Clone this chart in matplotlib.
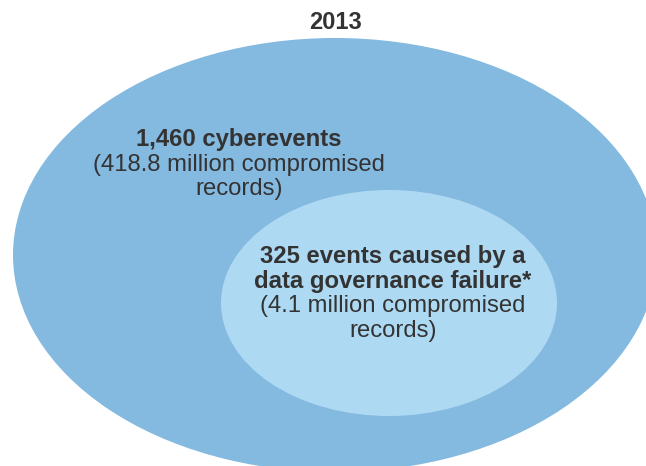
import matplotlib.pyplot as plt
from matplotlib.patches import Ellipse

plt.rcParams['font.family'] = ['Liberation Sans', 'DejaVu Sans']

# dados
titulo = '2013'
eventos = ['1,460 cyberevents', '325 events caused by a\ndata governance failure*']
registros = ['(418.8 million compromised\nrecords)', '(4.1 million compromised\nrecords)']

cor_texto = '#333333'
cores = ['#84b9e0', '#aed9f3']

fig = plt.figure(figsize=(6.46, 4.66), dpi=100)
ax = fig.add_axes([0, 0, 1, 1])
ax.set_xlim(0, 646)
ax.set_ylim(466, 0)
ax.axis('off')

# elipses (centro x, centro y, largura, altura)
elipses = [(335, 255, 644, 434), (389, 303, 336, 226)]
for (cx, cy, w, h), cor in zip(elipses, cores):
    ax.add_patch(Ellipse((cx, cy), w, h, facecolor=cor, edgecolor='none'))

ax.text(336, 29, titulo, ha='center', va='baseline', fontsize=17,
        fontweight='bold', color=cor_texto)

# posicoes dos textos: x central, baseline da primeira linha
posicoes = [(239, 146), (393, 263)]
passo = 24.6
for (x, y0), ev, reg in zip(posicoes, eventos, registros):
    linhas = [(l, 'bold') for l in ev.split('\n')] + [(l, 'normal') for l in reg.split('\n')]
    for i, (linha, peso) in enumerate(linhas):
        ax.text(x, y0 + i * passo, linha, ha='center', va='baseline',
                fontsize=17.2, fontweight=peso, color=cor_texto)

fig.savefig('out.png', dpi=100)
